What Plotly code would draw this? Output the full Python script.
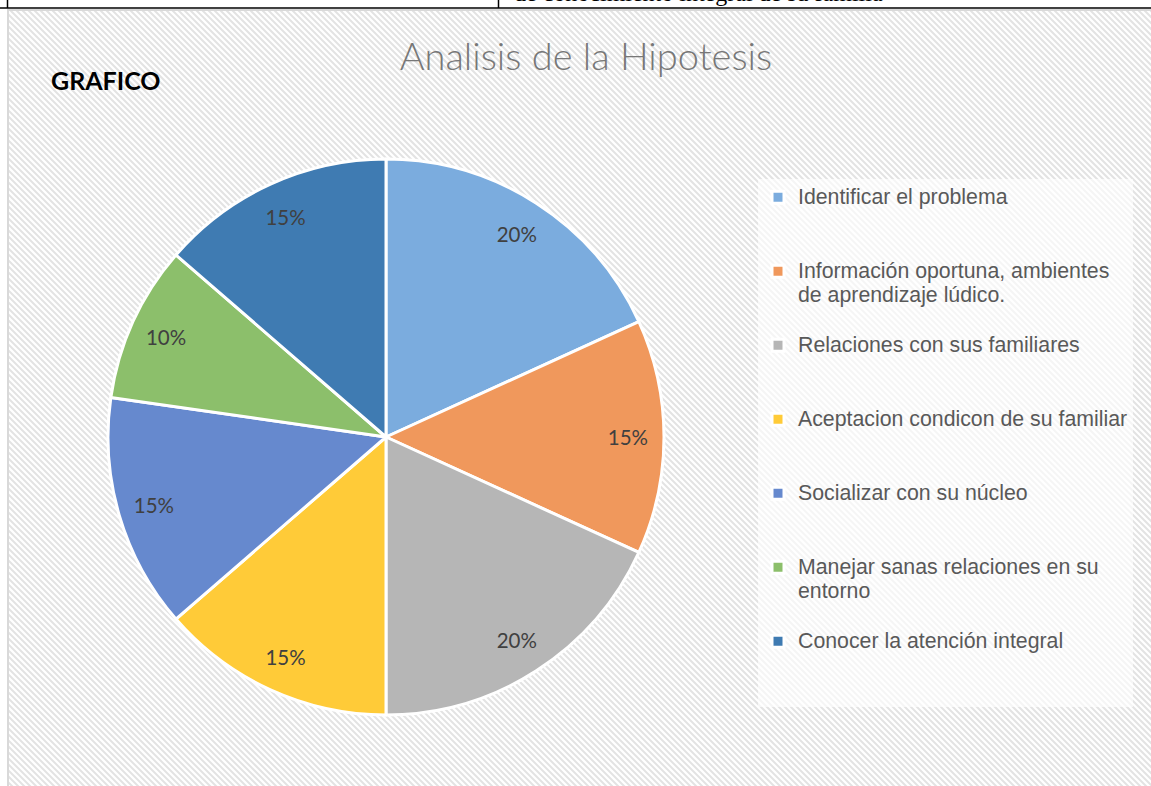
import plotly.graph_objects as go

W, H = 1151, 786

categories = [
    "Identificar el problema",
    "Información oportuna, ambientes<br>de aprendizaje lúdico.",
    "Relaciones con sus familiares",
    "Aceptacion condicon de su familiar",
    "Socializar con su núcleo",
    "Manejar sanas relaciones en su<br>entorno",
    "Conocer la atención integral",
]
values = [20, 15, 20, 15, 15, 10, 15]
colors = ["#7BACDE", "#F0985C", "#B6B6B6", "#FFCB38", "#6689CE", "#8CBF6B", "#3F7BB2"]

# pad legend labels to 3 lines so entries are evenly spaced, like the original
legend_labels = []
for c in categories:
    n = c.count("<br>") + 1
    styled = "<br>".join('<span style="font-size:21.3px">%s</span>' % part for part in c.split("<br>"))
    legend_labels.append(styled + "<br>&nbsp;" * (3 - n))


def px(x):
    return x / W


def py(y):
    return 1 - y / H


dom = dict(x=[px(108), px(664)], y=[py(715), py(159)])

fig = go.Figure()
fig.add_trace(go.Pie(
    labels=legend_labels,
    values=values,
    sort=False,
    direction="clockwise",
    rotation=0,
    marker=dict(colors=colors, line=dict(color="white", width=3)),
    textinfo="none",
    domain=dom,
    hoverinfo="skip",
))
# data labels, placed near the outer edge of each slice (as in the original)
fig.add_trace(go.Pie(
    labels=legend_labels,
    values=values,
    sort=False,
    direction="clockwise",
    rotation=0,
    hole=0.74,
    marker=dict(colors=["rgba(0,0,0,0)"] * len(values), line=dict(width=0)),
    texttemplate="%{value}%",
    textposition="inside",
    insidetextorientation="horizontal",
    textfont=dict(family="Lato", size=20.5, color="#404040"),
    domain=dom,
    showlegend=False,
    hoverinfo="skip",
))

# chart-area background with diagonal hatching
X0, Y0, X1, Y1 = 8, 10, W + 2, H + 2
segs = []
step = 6
c = X0 - Y1
while c <= X1 - Y0:
    xa = max(X0, Y0 + c)
    xb = min(X1, Y1 + c)
    if xb > xa:
        segs.append(f"M{px(xa):.5f},{py(xa - c):.5f}L{px(xb):.5f},{py(xb - c):.5f}")
    c += step
shapes = [
    dict(type="rect", xref="paper", yref="paper", x0=px(X0), y0=py(Y1), x1=px(X1), y1=py(Y0),
         fillcolor="white", line=dict(width=0), layer="below"),
    dict(type="path", xref="paper", yref="paper", path="".join(segs),
         line=dict(color="#E3E3E3", width=2), layer="below"),
    dict(type="rect", xref="paper", yref="paper", x0=px(X0), y0=py(Y1), x1=px(X1), y1=py(Y0),
         fillcolor="rgba(0,0,0,0)", line=dict(color="#D9D9D9", width=2), layer="below"),
    # table border above the chart
    dict(type="line", xref="paper", yref="paper", x0=0, x1=1, y0=py(8), y1=py(8),
         line=dict(color="black", width=1.5)),
    dict(type="line", xref="paper", yref="paper", x0=px(7.5), x1=px(7.5), y0=py(0), y1=py(8),
         line=dict(color="black", width=1.5)),
    dict(type="line", xref="paper", yref="paper", x0=px(498.5), x1=px(498.5), y0=py(0), y1=py(8),
         line=dict(color="black", width=1.5)),
]

annotations = [
    dict(text="GRAFICO", x=px(49), y=py(80), xref="paper", yref="paper", xanchor="left",
         yanchor="middle", showarrow=False,
         font=dict(family="Lato", size=25, color="black", weight="bold")),
    dict(text="de conocimiento integral de su familia", x=px(512), y=py(8), xref="paper",
         yref="paper", xanchor="left", yanchor="bottom", showarrow=False,
         font=dict(family="Liberation Serif", size=24, color="black")),
]

fig.update_layout(
    width=W, height=H,
    margin=dict(l=0, r=0, t=0, b=0),
    paper_bgcolor="white",
    title=dict(text="Analisis de la Hipotesis", x=px(586), xanchor="center",
               y=py(57), yanchor="middle", yref="paper",
               font=dict(family="Lato", size=38, color="#777777", weight=300)),
    showlegend=True,
    legend=dict(x=px(758), y=py(179), xanchor="left", yanchor="top",
                bgcolor="rgba(255,255,255,0.65)", valign="top",
                font=dict(family="Liberation Sans", size=18.2, color="#595959"),
                traceorder="normal"),
    shapes=shapes,
    annotations=annotations,
)

fig.write_html("out.html", config={"displayModeBar": False},
               post_script="document.body.style.margin='0';")
